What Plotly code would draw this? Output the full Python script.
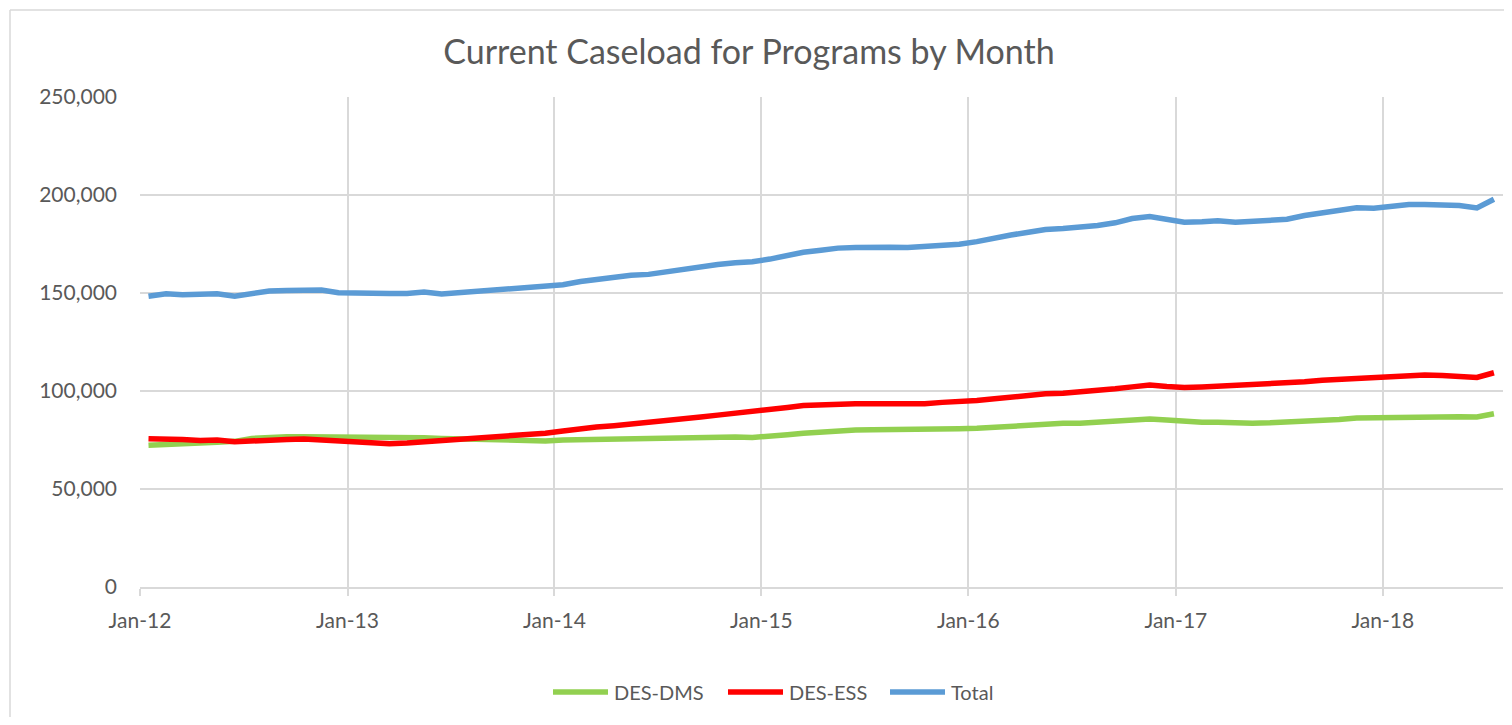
import pandas as pd
import plotly.graph_objects as go

# Monthly data, Jan-2012 .. Jul-2018 (79 months)
start_month = "2012-01-01"
n_months = 79

des_dms = [
    72300, 72900, 73100, 73500, 73800, 74300, 75800, 76500, 76700, 76700, 76700, 76300,
    76300, 76500, 76500, 76500, 76200, 75800, 75500, 75300, 75200, 75000, 74800, 74500,
    75000, 75200, 75300, 75500, 75800, 76000, 76300, 76500, 76500, 76500, 76500, 76300,
    76700, 77700, 78500, 79200, 79700, 80100, 80200, 80200, 80200, 80400, 80600, 80800,
    81000, 81600, 82100, 82600, 83300, 83500, 83600, 84000, 84500, 85300, 85700, 85200,
    84300, 84000, 84000, 83600, 83600, 83800, 84100, 84800, 85000, 85500, 86200, 86300,
    86700, 87000, 87000, 86900, 86900, 86700, 88400,
]

des_ess = [
    75700, 75700, 75200, 74800, 75000, 74100, 74600, 75200, 75300, 75500, 75000, 74100,
    73500, 73100, 73100, 73500, 74100, 74300, 74800, 75500, 76300, 77000, 77900, 78500,
    79600, 80800, 81600, 82300, 83100, 83600, 84500, 85700, 86700, 87700, 88600, 89100,
    90100, 91600, 92600, 93100, 93500, 93500, 93500, 93300, 93000, 93500, 94200, 94500,
    95200, 96000, 96900, 97700, 98600, 98900, 99400, 100100, 101100, 102100, 103000, 102300,
    101800, 102100, 102500, 102500, 102800, 103300, 103800, 104700, 105500, 105900, 106700, 106500,
    107100, 107600, 108100, 107900, 107700, 106900, 109300,
]

total = [
    148300, 149600, 149100, 149100, 149600, 148400, 149500, 151000, 151300, 151300, 151500, 150100,
    149800, 149600, 149800, 149800, 150500, 149500, 150100, 150800, 151300, 152000, 152700, 153000,
    154200, 155900, 157100, 157800, 159100, 159500, 160800, 162500, 163700, 164500, 165400, 165900,
    167300, 169300, 170800, 171800, 172900, 173200, 173500, 173400, 173200, 173700, 174600, 174900,
    176200, 178300, 179600, 181000, 182400, 182900, 183400, 184400, 185800, 188000, 189000, 187600,
    186100, 186300, 186800, 186100, 186400, 187300, 187600, 189500, 190800, 191600, 193500, 193300,
    194400, 195100, 195100, 194600, 194600, 193400, 197800,
]

series_names = ["DES-DMS", "DES-ESS", "Total"]
series_colors = ["#92d050", "#ff0000", "#5b9bd5"]

months = pd.date_range(start_month, periods=n_months, freq="MS")
# Excel date axis places each monthly point in the middle of its month
x_dates = months + pd.Timedelta(days=15)

fig = go.Figure()
for name, vals, col in zip(series_names, [des_dms, des_ess, total], series_colors):
    fig.add_trace(go.Scatter(
        x=x_dates, y=vals, mode="lines", name=name,
        line=dict(color=col, width=5.5), showlegend=False,
    ))

font_family = "Lato, 'Open Sans', sans-serif"
grid = "#d9d9d9"
txt = "#595959"

# page body has an 8px margin, so the figure is laid out in shifted coordinates
W, H = 1496, 709
L, R_EDGE, T, B_EDGE = 132, 1495, 89, 579
PW, PH = R_EDGE - L, B_EDGE - T


def px(xf):
    return (xf - L) / PW


def py(yf):
    return (B_EDGE - yf) / PH


shapes = [
    dict(type="line", xref="paper", yref="paper",
         x0=px(2), x1=px(2), y0=py(2), y1=py(H + 20),
         line=dict(color=grid, width=1.5)),
    dict(type="line", xref="paper", yref="paper",
         x0=px(2), x1=px(W + 20), y0=py(2), y1=py(2),
         line=dict(color=grid, width=1.5)),
]
annotations = []

# Excel-style legend below the plot (long line samples)
legend_y = 684
legend_starts = [545, 720, 882]
for name, col, x0 in zip(series_names, series_colors, legend_starts):
    shapes.append(dict(type="line", xref="paper", yref="paper",
                       x0=px(x0), x1=px(x0 + 55), y0=py(legend_y), y1=py(legend_y),
                       line=dict(color=col, width=5.5)))
    annotations.append(dict(xref="paper", yref="paper", x=px(x0 + 59), y=py(legend_y),
                            xanchor="left", yanchor="middle", showarrow=False,
                            text=name, font=dict(size=20, color=txt, family=font_family)))

fig.update_layout(
    width=W, height=H,
    paper_bgcolor="white", plot_bgcolor="white",
    margin=dict(l=L, r=W - R_EDGE, t=T, b=H - B_EDGE),
    font=dict(family=font_family, color=txt, size=21),
    title=dict(
        text="Current Caseload for Programs by Month",
        x=741 / W, xanchor="center", xref="container",
        y=1 - 44 / H, yanchor="middle", yref="container",
        font=dict(size=34, color=txt, family=font_family),
    ),
    showlegend=False,
    xaxis=dict(
        type="date",
        range=["2012-01-01", "2018-08-01"],
        tick0="2012-01-01", dtick="M12", tickformat="%b-%y",
        showgrid=True, gridcolor=grid, gridwidth=1.5,
        showline=True, linecolor=grid, linewidth=1.5,
        ticks="outside", ticklen=7, tickcolor=grid, tickwidth=1.5,
        ticklabelstandoff=7,
        tickfont=dict(size=21, color=txt),
        zeroline=False,
    ),
    yaxis=dict(
        range=[0, 250000], dtick=50000, tick0=0,
        tickformat=",",
        showgrid=True, gridcolor=grid, gridwidth=1.5,
        zeroline=False, showline=False,
        ticks="", ticklabelstandoff=22,
        tickfont=dict(size=21, color=txt),
    ),
    shapes=shapes,
    annotations=annotations,
)

fig.write_html("out.html")
